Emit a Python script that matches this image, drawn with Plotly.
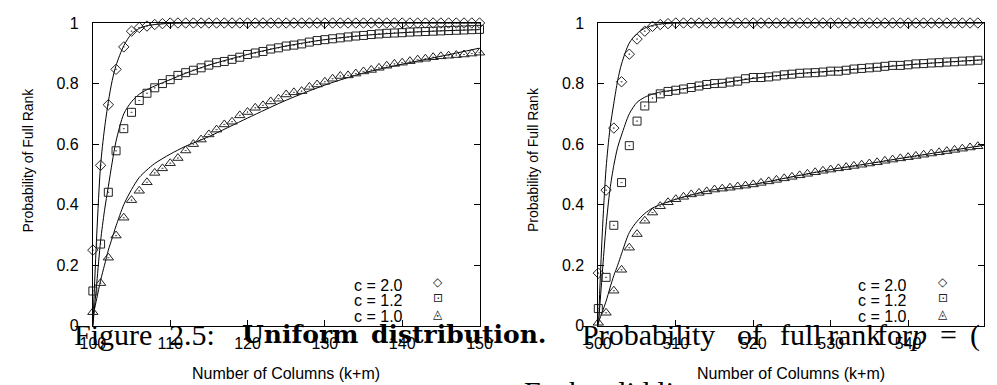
import plotly.graph_objects as go

# ---------------------------------------------------------------- data
cols_left = list(range(100, 151))
cols_right = list(range(500, 551))

# measured probability of full rank, left panel (100 .. 150 columns)
left_c20 = [0.25, 0.53, 0.73, 0.847, 0.921, 0.973, 0.985, 0.99, 0.995, 0.998] + [1.0] * 41
left_c12 = [0.115, 0.27, 0.441, 0.578, 0.651, 0.705, 0.744, 0.768, 0.786, 0.800,
            0.813, 0.827, 0.836, 0.844, 0.852, 0.861, 0.869, 0.873, 0.880, 0.887,
            0.896, 0.901, 0.906, 0.914, 0.918, 0.924, 0.927, 0.931, 0.937, 0.942,
            0.945, 0.948, 0.951, 0.954, 0.957, 0.959, 0.962, 0.964, 0.966, 0.967,
            0.968, 0.970, 0.971, 0.972, 0.973, 0.974, 0.975, 0.976, 0.977, 0.978,
            0.979]
left_c10 = [0.045, 0.141, 0.225, 0.298, 0.357, 0.415, 0.446, 0.474, 0.505, 0.520,
            0.537, 0.554, 0.579, 0.600, 0.615, 0.632, 0.648, 0.665, 0.674, 0.695,
            0.706, 0.720, 0.728, 0.741, 0.750, 0.764, 0.771, 0.775, 0.789, 0.797,
            0.806, 0.816, 0.825, 0.827, 0.833, 0.840, 0.845, 0.852, 0.859, 0.865,
            0.869, 0.874, 0.879, 0.882, 0.887, 0.890, 0.892, 0.894, 0.896, 0.899,
            0.902]

# measured probability of full rank, right panel (500 .. 550 columns)
right_c20 = [0.174, 0.448, 0.653, 0.806, 0.897, 0.947, 0.973, 0.989, 0.995, 0.998] + [1.0] * 41
right_c12 = [0.057, 0.16, 0.332, 0.473, 0.595, 0.676, 0.726, 0.752, 0.766, 0.774,
             0.778, 0.782, 0.787, 0.792, 0.797, 0.800, 0.801, 0.805, 0.808, 0.816,
             0.820, 0.820, 0.822, 0.825, 0.829, 0.831, 0.834, 0.835, 0.836, 0.838,
             0.841, 0.841, 0.844, 0.848, 0.850, 0.852, 0.854, 0.857, 0.860, 0.860,
             0.862, 0.865, 0.866, 0.868, 0.869, 0.871, 0.872, 0.874, 0.875, 0.877,
             0.878]
right_c10 = [0.010, 0.043, 0.116, 0.185, 0.258, 0.303, 0.347, 0.374, 0.395, 0.408,
             0.418, 0.426, 0.434, 0.439, 0.444, 0.450, 0.453, 0.456, 0.460, 0.463,
             0.467, 0.472, 0.477, 0.482, 0.487, 0.492, 0.497, 0.502, 0.507, 0.512,
             0.516, 0.520, 0.524, 0.528, 0.532, 0.536, 0.540, 0.545, 0.549, 0.553,
             0.557, 0.561, 0.565, 0.569, 0.573, 0.577, 0.581, 0.585, 0.589, 0.593,
             0.597]

# theoretical bounds (solid lines)
bound_x_left = [100, 100.5, 101, 101.5, 102, 102.5, 103, 104, 105, 106, 107, 108,
                110, 112, 115, 120, 125, 130, 135, 140, 145, 150]
bound_left_c20 = [0.0, 0.30, 0.53, 0.65, 0.74, 0.81, 0.86, 0.925, 0.964, 0.982, 0.991,
                  0.995, 0.999, 1.0, 1.0, 1.0, 1.0, 1.0, 1.0, 1.0, 1.0, 1.0]
bound_left_c12 = [0.0, 0.14, 0.28, 0.38, 0.46, 0.54, 0.61, 0.70, 0.74, 0.765, 0.78,
                  0.792, 0.813, 0.834, 0.861, 0.896, 0.924, 0.945, 0.959, 0.968,
                  0.974, 0.978]
bound_left_c10 = [0.03, 0.09, 0.15, 0.20, 0.25, 0.29, 0.33, 0.40, 0.45, 0.49, 0.515,
                  0.536, 0.567, 0.593, 0.625, 0.686, 0.745, 0.795, 0.835, 0.864,
                  0.89, 0.917]

bound_x_right = [500, 500.5, 501, 501.5, 502, 502.5, 503, 504, 505, 506, 507, 508,
                 510, 512, 515, 520, 525, 530, 535, 540, 545, 550]
bound_right_c20 = [0.0, 0.30, 0.52, 0.65, 0.735, 0.81, 0.865, 0.934, 0.965, 0.983,
                   0.992, 0.997, 1.0, 1.0, 1.0, 1.0, 1.0, 1.0, 1.0, 1.0, 1.0, 1.0]
bound_right_c12 = [0.0, 0.17, 0.33, 0.45, 0.53, 0.59, 0.63, 0.70, 0.738, 0.755, 0.765,
                   0.772, 0.779, 0.787, 0.798, 0.817, 0.831, 0.841, 0.851, 0.862,
                   0.871, 0.879]
bound_right_c10 = [0.01, 0.045, 0.081, 0.125, 0.166, 0.20, 0.238, 0.308, 0.345, 0.371,
                   0.389, 0.40, 0.418, 0.432, 0.45, 0.467, 0.492, 0.516, 0.536, 0.557,
                   0.577, 0.597]

series_labels = ["c = 2.0", "c = 1.2", "c = 1.0"]
y_tick_vals = [0, 0.2, 0.4, 0.6, 0.8, 1]
y_tick_text = ["0", "0.2", "0.4", "0.6", "0.8", "1"]
x_ticks_left = [100, 110, 120, 130, 140, 150]
x_ticks_right = [500, 510, 520, 530, 540, 550]
x_title = "Number of Columns (k+m)"
y_title = "Probability of Full Rank"

# ---------------------------------------------------------------- figure
W, H = 997, 385
SANS = "Liberation Sans"
SERIF = "Liberation Serif"
SERIF_BOLD = "DejaVu Serif"

def px_x(p):
    return p / W

def px_y(p):
    return 1 - p / H

fig = go.Figure()

symbols = ["diamond-open-dot", "square-open-dot", "triangle-up-open-dot"]
sizes = [8, 8, 9]
glyphs = ["\u25C7", "\u22A1", "\u25EC"]

panels = [
    ("x", "y", cols_left, [left_c20, left_c12, left_c10],
     bound_x_left, [bound_left_c20, bound_left_c12, bound_left_c10]),
    ("x2", "y2", cols_right, [right_c20, right_c12, right_c10],
     bound_x_right, [bound_right_c20, bound_right_c12, bound_right_c10]),
]

for xa, ya, xs, series, bx, bounds in panels:
    for b in bounds:
        fig.add_trace(go.Scatter(
            x=bx, y=b, xaxis=xa, yaxis=ya, mode="lines",
            line=dict(color="black", width=1, shape="spline", smoothing=0.8),
            showlegend=False, hoverinfo="skip"))
    for s, sym, sz in zip(series, symbols, sizes):
        fig.add_trace(go.Scatter(
            x=xs, y=s, xaxis=xa, yaxis=ya, mode="markers",
            marker=dict(symbol=sym, size=sz, color="#222",
                        line=dict(color="#222", width=1)),
            cliponaxis=False, showlegend=False))

left_dom = [px_x(82), px_x(479)]
right_dom = [px_x(601), 1.0]
y_dom = [px_y(332.5), px_y(15.7)]

axis_common = dict(
    showline=True, linecolor="black", linewidth=1, mirror="ticks",
    ticks="inside", ticklen=6, tickcolor="black", tickwidth=1,
    showgrid=False, zeroline=False,
    tickfont=dict(family=SANS, size=16, color="black"),
)

fig.update_layout(
    width=W, height=H,
    margin=dict(l=0, r=0, t=0, b=0),
    paper_bgcolor="white", plot_bgcolor="white",
    showlegend=False,
    xaxis=dict(domain=left_dom, range=[100, 150], tickvals=x_ticks_left,
               ticklabelstandoff=3, anchor="y", **axis_common),
    yaxis=dict(domain=y_dom, range=[0, 1], tickvals=y_tick_vals, ticktext=y_tick_text,
               ticklabelstandoff=10, anchor="x", **axis_common),
    xaxis2=dict(domain=right_dom, range=[500, 549.8], tickvals=x_ticks_right,
                ticklabelstandoff=3, anchor="y2", **axis_common),
    yaxis2=dict(domain=y_dom, range=[0, 1], tickvals=y_tick_vals, ticktext=y_tick_text,
                ticklabelstandoff=10, anchor="x2", **axis_common),
)

ann = []
# axis titles
for cx in (280.5, 799):
    ann.append(dict(x=px_x(cx), y=px_y(382), xref="paper", yref="paper",
                    text=x_title, showarrow=False, xanchor="center", yanchor="middle",
                    font=dict(family=SANS, size=16, color="black")))
for cx in (15, 534):
    ann.append(dict(x=px_x(cx), y=px_y(159), xref="paper", yref="paper",
                    text=y_title, showarrow=False, textangle=-90,
                    xanchor="center", yanchor="middle",
                    font=dict(family=SANS, size=14, color="black")))

# key boxes (text, then symbol)
for text_right, sym_x in ((402, 436), (920, 955)):
    for label, glyph, ry in zip(series_labels, glyphs, (290, 306.5, 323)):
        ann.append(dict(x=px_x(text_right), y=px_y(ry), xref="paper", yref="paper",
                        text=label, showarrow=False, xanchor="right", yanchor="middle",
                        font=dict(family=SANS, size=16, color="black")))
        ann.append(dict(x=px_x(sym_x), y=px_y(ry - 3), xref="paper", yref="paper",
                        text=glyph, showarrow=False, xanchor="center", yanchor="middle",
                        font=dict(family="DejaVu Sans", size=12, color="#222")))

# caption line printed across the panels (word, centre x, bold, style)
caption_words = [
    ("Figure", 103, False, "normal"),
    ("2.5:", 183.5, False, "normal"),
    ("Uniform", 295.5, True, "normal"),
    ("distribution.", 457.5, True, "normal"),
    ("Probability", 652.5, False, "normal"),
    ("of", 756, False, "normal"),
    ("full", 809, False, "normal"),
    ("rank", 864, False, "normal"),
    ("for", 905, False, "normal"),
    ("p", 930, False, "italic"),
    ("=", 961, False, "normal"),
    ("(", 988, False, "normal"),
]
for word, cx, bold, style in caption_words:
    if bold:
        f = dict(family=SERIF_BOLD, size=25, color="black", weight="bold")
    else:
        f = dict(family=SERIF, size=30, color="black", style=style)
    ann.append(dict(x=px_x(cx), y=px_y(342), xref="paper", yref="paper",
                    text=word, showarrow=False, xanchor="center", yanchor="middle",
                    borderpad=0, font=f))

# start of the following caption line, cut by the lower edge
ann.append(dict(x=px_x(524), y=px_y(401), xref="paper", yref="paper",
                text="Each solid line", showarrow=False, xanchor="left",
                yanchor="middle", borderpad=0,
                font=dict(family=SERIF, size=30, color="black")))

fig.update_layout(annotations=ann)
fig.write_html("out.html")
